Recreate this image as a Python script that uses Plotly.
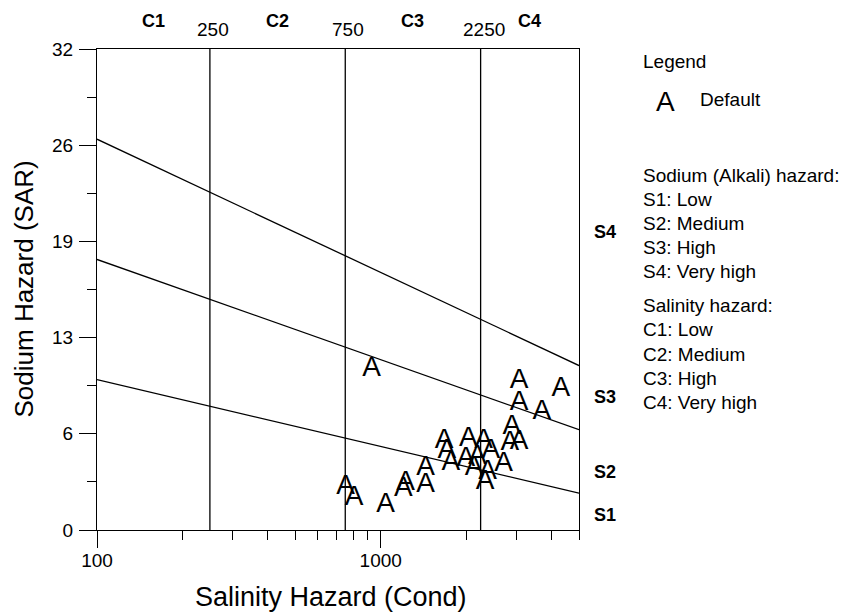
import numpy as np
import plotly.graph_objects as go

# ---------------- data ----------------
cond = [929, 3074, 4315, 3074, 3698, 2899, 3074, 2851, 1672, 2038, 2303, 2443, 1709,
        1766, 1995, 2193, 2709, 2134, 2379, 2333, 1441, 1441, 1225, 1202, 752, 805, 1041]
sar = [10.69, 9.93, 9.36, 8.47, 7.83, 6.87, 5.87, 5.77, 5.92, 6.05, 5.92, 5.28, 5.28,
       4.44, 4.70, 4.88, 4.39, 4.11, 3.88, 3.21, 4.11, 2.99, 3.11, 2.71, 2.84, 2.11, 1.66]
point_symbol = "A"
series_name = "Default"

salinity_bounds = [250, 750, 2250]
salinity_bound_labels = ["250", "750", "2250"]
salinity_classes = ["C1", "C2", "C3", "C4"]
sodium_classes = ["S1", "S2", "S3", "S4"]

x_limits = [100, 5000]
y_limits = [0, 32]
boundary_x = [100, 5000]
s1_s2_line = [10.0, 2.45]
s2_s3_line = [18.0, 6.67]
s3_s4_line = [26.0, 10.94]

y_tickvals = [0, 6.4, 12.8, 19.2, 25.6, 32]
y_ticktext = ["0", "6", "13", "19", "26", "32"]
y_minor = [3.2, 9.6, 16.0, 22.4, 28.8]
x_tickvals = [100, 1000]
x_ticktext = ["100", "1000"]
x_minor = [200, 300, 400, 500, 600, 700, 800, 900, 2000, 3000, 4000, 5000]

sodium_legend = ["Sodium (Alkali) hazard:", "S1: Low", "S2: Medium", "S3: High", "S4: Very high"]
salinity_legend = ["Salinity hazard:", "C1: Low", "C2: Medium", "C3: High", "C4: Very high"]

# ---------------- layout helpers ----------------
W, H = 847, 616
L, R, T, B = 97, 579, 49, 530
FONT = "Arial, 'Liberation Sans', sans-serif"


def px_x(px):
    return (px - L) / (R - L)


def px_y(py):
    return (B - py) / (B - T)


fig = go.Figure()
line_style = dict(color="black", width=1.3)

# salinity class vertical boundaries
for b in salinity_bounds:
    fig.add_trace(go.Scatter(x=[b, b], y=y_limits, mode="lines", line=line_style,
                             hoverinfo="skip", showlegend=False))

# sodium hazard boundaries
for ys in (s1_s2_line, s2_s3_line, s3_s4_line):
    fig.add_trace(go.Scatter(x=boundary_x, y=ys, mode="lines", line=line_style,
                             hoverinfo="skip", showlegend=False))

# samples
fig.add_trace(go.Scatter(x=cond, y=sar, mode="text", text=[point_symbol] * len(cond),
                         textposition="middle center",
                         textfont=dict(family=FONT, size=28, color="black"),
                         name=series_name, showlegend=False))

ann = []
# top labels: boundary values and class names
for b, lab in zip(salinity_bounds, salinity_bound_labels):
    ann.append(dict(x=np.log10(b), xref="x", y=px_y(29), yref="paper", text=lab,
                    showarrow=False, xanchor="center", yanchor="middle", xshift=3,
                    font=dict(family=FONT, size=19, color="black")))
edges = [x_limits[0]] + salinity_bounds + [x_limits[1]]
for i, lab in enumerate(salinity_classes):
    mid = (np.log10(edges[i]) + np.log10(edges[i + 1])) / 2
    ann.append(dict(x=mid, xref="x", y=px_y(21.5), yref="paper", text="<b>%s</b>" % lab,
                    showarrow=False, xanchor="center", yanchor="middle",
                    font=dict(family=FONT, size=18, color="black")))

# right-side sodium class labels
s_label_y = [1.0, 3.86, 8.85, 19.83]
for lab, yv in zip(sodium_classes, s_label_y):
    ann.append(dict(x=px_x(592), xref="paper", y=yv, yref="y", text="<b>%s</b>" % lab,
                    showarrow=False, xanchor="left", yanchor="middle",
                    font=dict(family=FONT, size=18, color="black")))

# axis titles
ann.append(dict(x=px_x(331), xref="paper", y=px_y(597), yref="paper", text="Salinity Hazard (Cond)",
                showarrow=False, xanchor="center", yanchor="middle",
                font=dict(family=FONT, size=27, color="black")))
ann.append(dict(x=px_x(23), xref="paper", y=0.5, yref="paper", text="Sodium Hazard (SAR)",
                showarrow=False, xanchor="center", yanchor="middle", textangle=-90,
                font=dict(family=FONT, size=26, color="black")))

# legend block
ann.append(dict(x=px_x(641), xref="paper", y=px_y(61), yref="paper", text="Legend",
                showarrow=False, xanchor="left", yanchor="middle",
                font=dict(family=FONT, size=19, color="black")))
ann.append(dict(x=px_x(665), xref="paper", y=px_y(102), yref="paper", text=point_symbol,
                showarrow=False, xanchor="center", yanchor="middle",
                font=dict(family=FONT, size=28, color="black")))
ann.append(dict(x=px_x(698), xref="paper", y=px_y(99), yref="paper", text=series_name,
                showarrow=False, xanchor="left", yanchor="middle",
                font=dict(family=FONT, size=19, color="black")))
y0 = 175
for i, t in enumerate(sodium_legend):
    ann.append(dict(x=px_x(641), xref="paper", y=px_y(y0 + 24.2 * i), yref="paper", text=t,
                    showarrow=False, xanchor="left", yanchor="middle",
                    font=dict(family=FONT, size=19, color="black")))
y1 = 305
for i, t in enumerate(salinity_legend):
    ann.append(dict(x=px_x(641), xref="paper", y=px_y(y1 + 24.5 * i), yref="paper", text=t,
                    showarrow=False, xanchor="left", yanchor="middle",
                    font=dict(family=FONT, size=19, color="black")))

fig.update_layout(
    width=W, height=H,
    margin=dict(l=L, r=W - R, t=T, b=H - B, pad=0),
    paper_bgcolor="white", plot_bgcolor="white",
    showlegend=False,
    font=dict(family=FONT, size=19, color="black"),
    annotations=ann,
)
fig.update_xaxes(type="log", range=[np.log10(x_limits[0]), np.log10(x_limits[1])],
                 tickmode="array", tickvals=x_tickvals, ticktext=x_ticktext,
                 ticks="outside", ticklen=17, tickwidth=1.3, tickcolor="black",
                 ticklabelstandoff=-4,
                 minor=dict(tickmode="array", tickvals=x_minor, ticks="outside", ticklen=9,
                            tickwidth=1.3, tickcolor="black", showgrid=False),
                 showline=True, linecolor="black", linewidth=1.3, mirror=True,
                 showgrid=False, zeroline=False,
                 tickfont=dict(family=FONT, size=19, color="black"))
fig.update_yaxes(range=y_limits, tickmode="array", tickvals=y_tickvals, ticktext=y_ticktext,
                 ticks="outside", ticklen=17, tickwidth=1.3, tickcolor="black",
                 ticklabelstandoff=2,
                 minor=dict(tickmode="array", tickvals=y_minor, ticks="outside", ticklen=9,
                            tickwidth=1.3, tickcolor="black", showgrid=False),
                 showline=True, linecolor="black", linewidth=1.3, mirror=True,
                 showgrid=False, zeroline=False,
                 tickfont=dict(family=FONT, size=19, color="black"))

fig.write_html("out.html")
